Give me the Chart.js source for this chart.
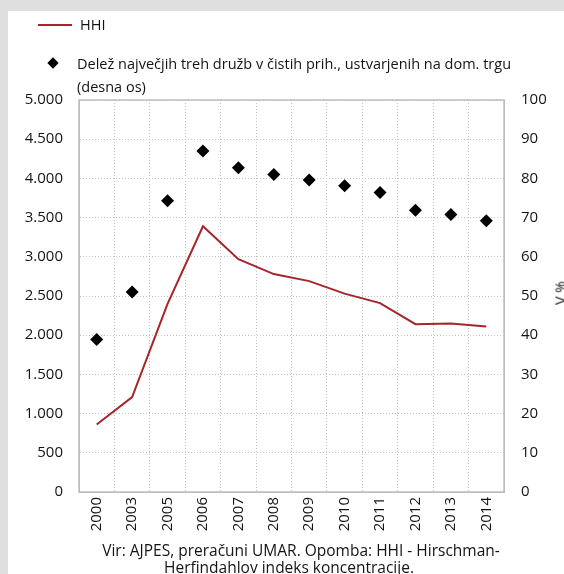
<!DOCTYPE html>
<html>
<head>
<meta charset="utf-8">
<script src="https://cdn.jsdelivr.net/npm/chart.js@4/dist/chart.umd.min.js"></script>
<style>
  html, body { margin: 0; padding: 0; }
  body { width: 564px; height: 574px; background: #dedede; position: relative; overflow: hidden;
         font-family: "Open Sans", "Noto Sans", sans-serif; color: #141414; }
  #panel { position: absolute; left: 8px; top: 11px; width: 600px; height: 600px; background: #ffffff; }
  #chart { position: absolute; left: 0; top: 0; }
  .lg { position: absolute; font-size: 14.5px; line-height: 23px; white-space: nowrap; }
  .sw-line { position: absolute; height: 2px; }
  .sw-dia { position: absolute; width: 8px; height: 8px; transform: rotate(45deg); }
  #rtitle { position: absolute; left: 560px; top: 293px; font-size: 14px; white-space: nowrap;
            transform: translate(-50%, -50%) rotate(-90deg); }
  .note { position: absolute; width: 500px; font-size: 15.5px; line-height: 17px;
          text-align: center; white-space: nowrap; }
</style>
</head>
<body>
<div id="panel"></div>
<canvas id="chart" width="564" height="574"></canvas>
<div id="legend"></div>
<div id="rtitle"></div>
<div id="note"></div>
<script>
// ---- data ----
const years = ['2000', '2003', '2005', '2006', '2007', '2008', '2009', '2010', '2011', '2012', '2013', '2014'];
const hhiValues = [860, 1210, 2400, 3390, 2970, 2780, 2690, 2530, 2410, 2140, 2150, 2110];
const shareValues = [38.9, 51.0, 74.3, 87.0, 82.7, 81.0, 79.6, 78.1, 76.4, 71.9, 70.8, 69.2];
const hhiLabel = ['HHI'];
const shareLabel = ['Delež največjih treh družb v čistih prih., ustvarjenih na dom. trgu', '(desna os)'];
const rightAxisTitle = 'V %';
const noteLines = ['Vir: AJPES, preračuni UMAR. Opomba: HHI - Hirschman-', 'Herfindahlov indeks koncentracije.'];

const RED = '#a4262b';
const GRID = '#c4c4c4';
const FRAME = '#bdbdbd';
const TXT = '#141414';
const FONT = { family: '"Open Sans", "Noto Sans", sans-serif', size: 15 };

function fmtThousands(v) {
  return String(v).replace(/\B(?=(\d{3})+(?!\d))/g, '.');
}

const framePlugin = {
  id: 'frame',
  beforeDatasetsDraw(chart) {
    const { ctx, chartArea: a } = chart;
    ctx.save();
    ctx.strokeStyle = FRAME;
    ctx.lineWidth = 1.5;
    ctx.strokeRect(a.left, a.top, a.right - a.left, a.bottom - a.top);
    ctx.restore();
  }
};

const chart = new Chart(document.getElementById('chart'), {
  type: 'line',
  data: {
    labels: years,
    datasets: [
      {
        label: hhiLabel.join(' '),
        data: hhiValues,
        yAxisID: 'y',
        borderColor: RED,
        backgroundColor: RED,
        borderWidth: 2,
        pointRadius: 0,
        tension: 0,
        order: 2
      },
      {
        label: shareLabel.join(' '),
        data: shareValues,
        yAxisID: 'y1',
        showLine: false,
        pointStyle: 'rectRot',
        pointRadius: 6.5,
        pointBackgroundColor: '#000000',
        pointBorderColor: '#000000',
        pointBorderWidth: 0,
        order: 1
      }
    ]
  },
  options: {
    responsive: false,
    animation: false,
    devicePixelRatio: 1,
    layout: { padding: { top: 100, left: 0, right: 0, bottom: 32 } },
    plugins: { legend: { display: false }, tooltip: { enabled: false }, title: { display: false } },
    scales: {
      x: {
        type: 'category',
        offset: true,
        grid: { offset: true, color: GRID, lineWidth: 1, drawTicks: false },
        border: { display: true, color: FRAME, dash: [1, 2] },
        ticks: { color: TXT, font: FONT, minRotation: 90, maxRotation: 90, padding: 5, autoSkip: false },
        afterFit(s) { s.height = 50; }
      },
      y: {
        position: 'left',
        min: 0, max: 5000,
        grid: { color: GRID, lineWidth: 1, drawTicks: false },
        border: { display: true, color: FRAME, dash: [1, 2] },
        ticks: { stepSize: 500, color: TXT, font: FONT, padding: 16, callback: v => fmtThousands(v) },
        afterFit(s) { s.width = 79; }
      },
      y1: {
        position: 'right',
        min: 0, max: 100,
        grid: { drawOnChartArea: false, drawTicks: false },
        border: { display: true, color: FRAME },
        ticks: { stepSize: 10, color: TXT, font: FONT, padding: 17 },
        afterFit(s) { s.width = 60; }
      }
    }
  },
  plugins: [framePlugin]
});

// ---- HTML legend built from the datasets ----
const legend = document.getElementById('legend');
legend.innerHTML =
  '<div class="sw-line" style="left:38px;top:24px;width:34px;background:' + RED + '"></div>' +
  '<div class="lg" style="left:80px;top:13px">' + hhiLabel.join('<br>') + '</div>' +
  '<div class="sw-dia" style="left:49px;top:59px;background:#000"></div>' +
  '<div class="lg" style="left:77px;top:52px">' + shareLabel.join('<br>') + '</div>';

document.getElementById('rtitle').textContent = rightAxisTitle;

// footnote: two centred lines
const noteCentres = [301, 289];
document.getElementById('note').innerHTML = noteLines.map((t, i) =>
  '<div class="note" style="left:' + (noteCentres[i] - 250) + 'px;top:' + (542 + i * 17) + 'px">' + t + '</div>'
).join('');
</script>
</body>
</html>
